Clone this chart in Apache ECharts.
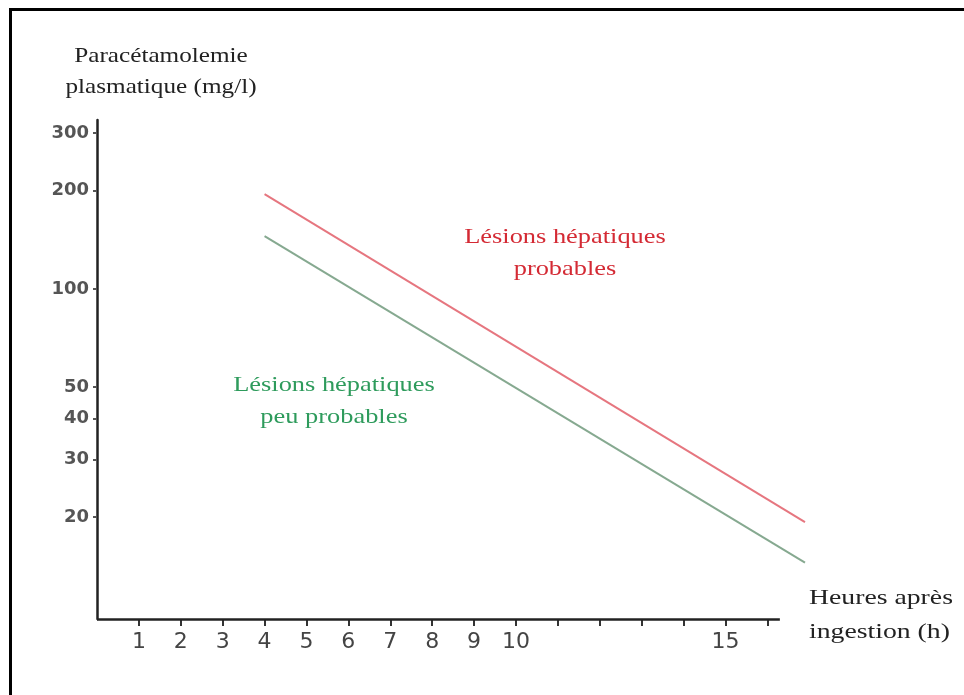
<!DOCTYPE html>
<html>
<head>
<meta charset="utf-8">
<script src="https://cdn.jsdelivr.net/npm/echarts@6/dist/echarts.min.js"></script>
<style>
  html, body { margin: 0; padding: 0; background: #ffffff; }
  #chart { width: 964px; height: 695px; }
</style>
</head>
<body>
<div id="chart"></div>
<script>
// Data
const hours = [4, 16.9];
const probableLine = [195, 19.3];     // "Lésions hépatiques probables" threshold (red)
const improbableLine = [145, 14.5];   // "Lésions hépatiques peu probables" threshold (green)
const yTickValues = [20, 30, 40, 50, 100, 200, 300];
const xTickValues = [1, 2, 3, 4, 5, 6, 7, 8, 9, 10, 11, 12, 13, 14, 15, 16];
const xLabelValues = [1, 2, 3, 4, 5, 6, 7, 8, 9, 10, 15];
const xAxisEnd = 16.3;   // drawn hour axis stops here, the threshold lines run past it
const yMin = 9.74, yMax = 329;
const yTitleLines = ['Paracétamolemie', 'plasmatique (mg/l)'];
const xTitleLines = ['Heures après', 'ingestion (h)'];
const redNoteLines = ['Lésions hépatiques', 'probables'];
const greenNoteLines = ['Lésions hépatiques', 'peu probables'];

const serif = '"Liberation Serif", "DejaVu Serif", serif';
const sans = '"DejaVu Sans", Verdana, sans-serif';

function textEl(str, x, y, size, color, align, sx) {
  return {
    type: 'text', x: x, y: y, scaleX: sx || 1.2,
    style: { text: str, fill: color, font: size + 'px ' + serif, align: align || 'center', verticalAlign: 'middle' }
  };
}

const chart = echarts.init(document.getElementById('chart'));
chart.setOption({
  animation: false,
  backgroundColor: '#ffffff',
  grid: { left: 97, right: 159, top: 120, bottom: 76, containLabel: false },
  xAxis: {
    type: 'value', min: 0, max: hours[1], interval: 1,
    axisLine: { show: false },
    axisTick: { show: true, customValues: xTickValues, length: 7, lineStyle: { color: '#333', width: 2 } },
    axisLabel: { show: true, customValues: xLabelValues, margin: 12, fontSize: 22, fontFamily: sans, color: '#444' },
    splitLine: { show: false }
  },
  yAxis: {
    type: 'log', logBase: 10, min: yMin, max: yMax,
    axisLine: { show: true, lineStyle: { color: '#222', width: 2.5 } },
    axisTick: { show: true, customValues: yTickValues, length: 4, lineStyle: { color: '#555', width: 2 } },
    axisLabel: { show: true, customValues: yTickValues, margin: 8, fontSize: 18, fontWeight: 'bold', fontFamily: sans, color: '#555' },
    splitLine: { show: false }
  },
  series: [
    {
      type: 'line', symbol: 'none', silent: true, z: 3,
      data: hours.map((h, i) => [h, probableLine[i]]),
      lineStyle: { color: '#e6767f', width: 2 },
      markLine: {
        silent: true, symbol: 'none', label: { show: false },
        lineStyle: { color: '#222', width: 2.5, type: 'solid' },
        data: [[{ coord: [0, yMin] }, { coord: [xAxisEnd, yMin] }]]
      }
    },
    {
      type: 'line', symbol: 'none', silent: true, z: 3,
      data: hours.map((h, i) => [h, improbableLine[i]]),
      lineStyle: { color: '#86a990', width: 2 }
    }
  ],
  graphic: [
    { type: 'line', shape: { x1: 10, y1: 9.5, x2: 964, y2: 9.5 }, style: { stroke: '#000', lineWidth: 3 } },
    { type: 'line', shape: { x1: 10.5, y1: 8, x2: 10.5, y2: 695 }, style: { stroke: '#000', lineWidth: 3 } },
    textEl(yTitleLines[0], 161, 56, 21, '#222'),
    textEl(yTitleLines[1], 161, 87, 21, '#222'),
    textEl(xTitleLines[0], 809, 598, 22, '#222', 'left', 1.26),
    textEl(xTitleLines[1], 809, 632, 22, '#222', 'left', 1.26),
    textEl(redNoteLines[0], 565, 237, 22, '#d42a34'),
    textEl(redNoteLines[1], 565, 269, 22, '#d42a34'),
    textEl(greenNoteLines[0], 334, 385, 22, '#2e9b5c'),
    textEl(greenNoteLines[1], 334, 417, 22, '#2e9b5c')
  ]
});
</script>
</body>
</html>
